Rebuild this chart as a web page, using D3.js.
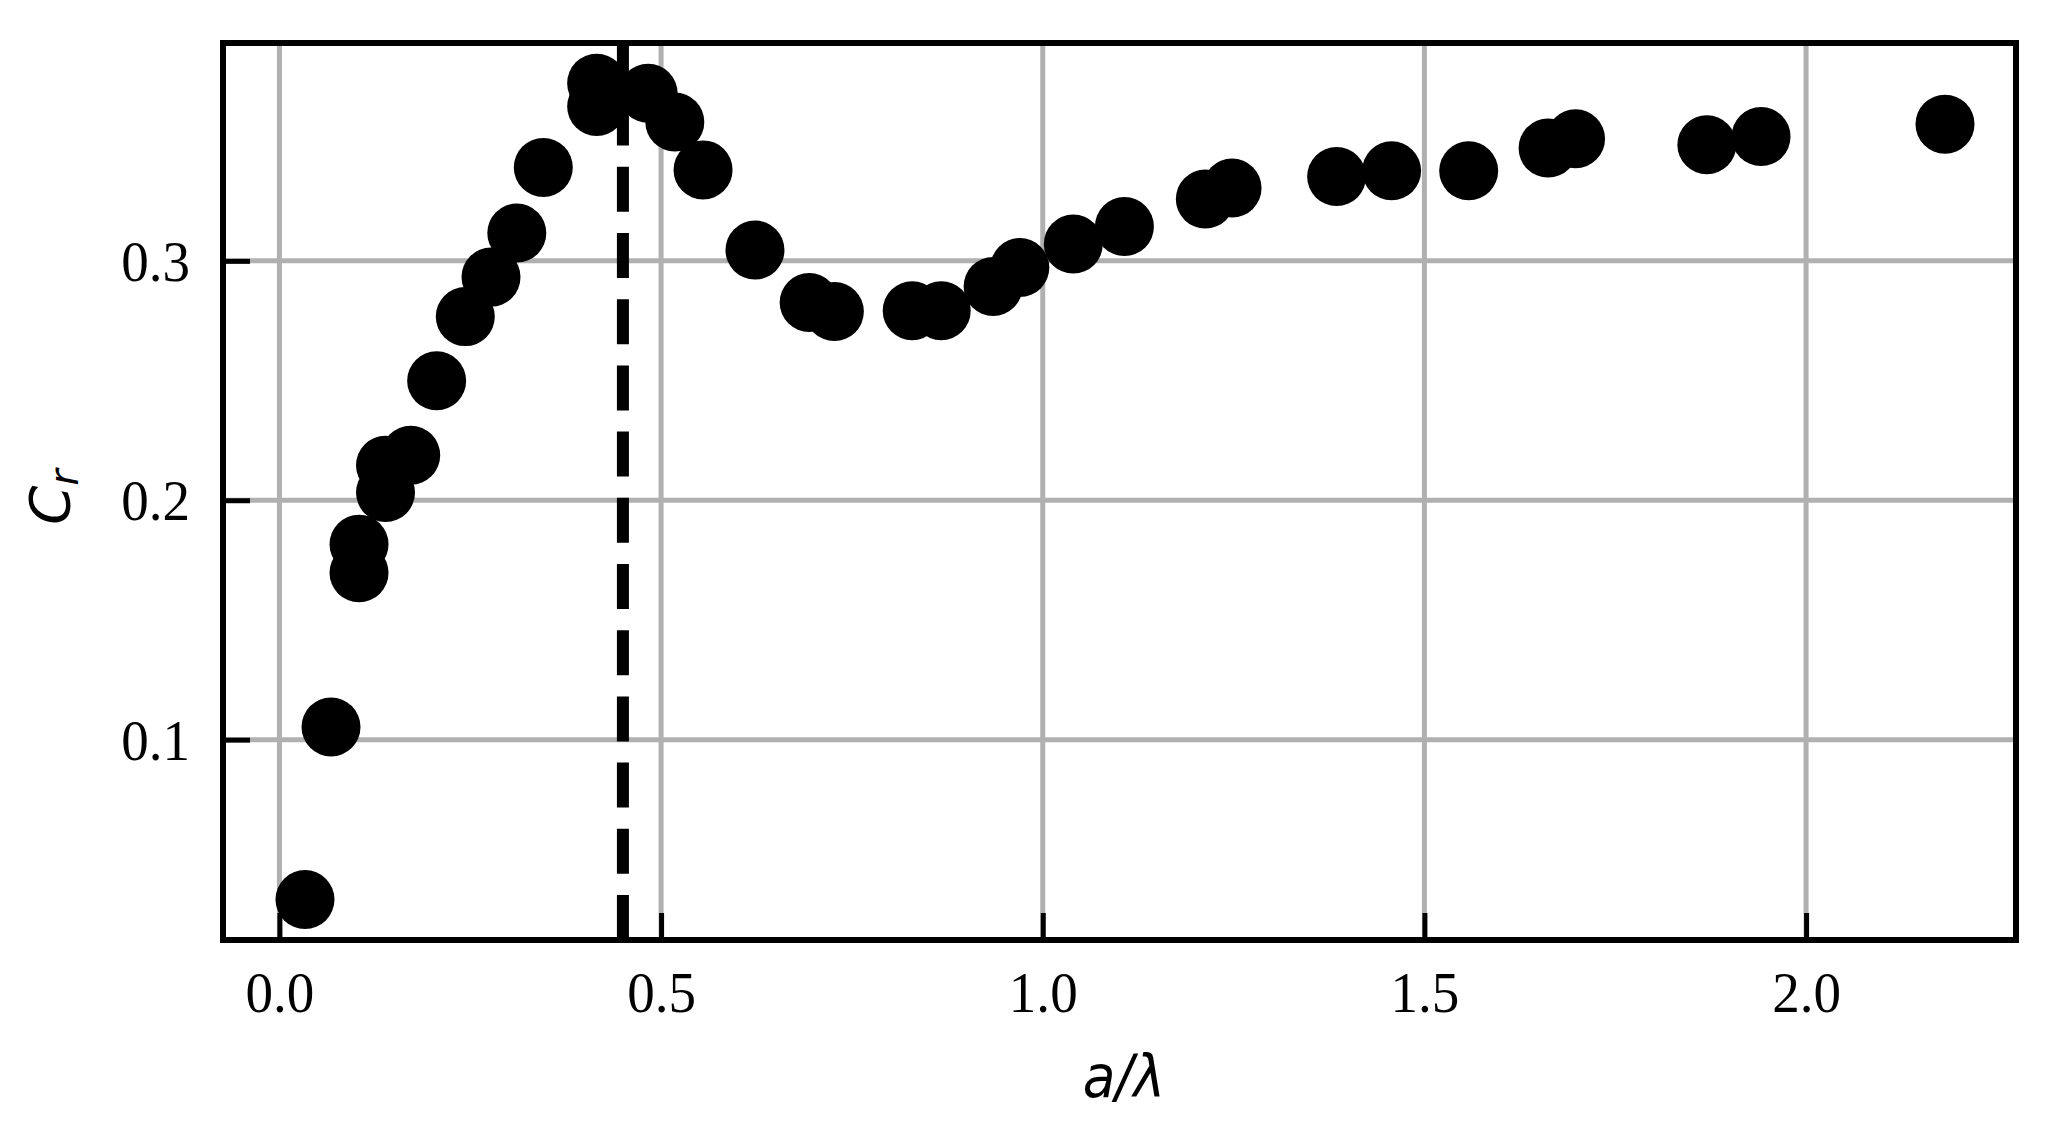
<!DOCTYPE html>
<html>
<head>
<meta charset="utf-8">
<script src="https://cdn.jsdelivr.net/npm/d3@7"></script>
<style>
  html, body { margin: 0; padding: 0; background: #fff; }
  svg { display: block; }
</style>
</head>
<body>
<div id="chart"></div>
<script>
// a/lambda values of the measured points
const ratio = [0.0335, 0.0676, 0.1043, 0.1043, 0.139, 0.139, 0.172, 0.206, 0.2435, 0.2772,
  0.311, 0.3457, 0.4156, 0.4156, 0.483, 0.518, 0.555, 0.623, 0.694, 0.727,
  0.829, 0.867, 0.935, 0.970, 1.040, 1.107, 1.213, 1.248, 1.385, 1.457,
  1.558, 1.662, 1.698, 1.870, 1.941, 2.182];
// C_r values, same order
const cr = [0.0332, 0.1053, 0.1697, 0.1816, 0.2032, 0.2146, 0.2188, 0.2499, 0.2767, 0.2932,
  0.3116, 0.339, 0.3645, 0.3742, 0.370, 0.358, 0.338, 0.3045, 0.2826, 0.2788,
  0.2792, 0.2792, 0.2893, 0.2972, 0.307, 0.3143, 0.3258, 0.3304, 0.3352, 0.3376,
  0.3376, 0.3471, 0.351, 0.3485, 0.3519, 0.3571];
const xTicks = [0.0, 0.5, 1.0, 1.5, 2.0];
const yTicks = [0.1, 0.2, 0.3];
const peakLine = 0.45;

const width = 2054, height = 1124;
const margin = {top: 43, right: 38, bottom: 184, left: 223};

const x = d3.scaleLinear().domain([-0.0739, 2.275]).range([margin.left, width - margin.right]);
const y = d3.scaleLinear().domain([0.0163, 0.391]).range([height - margin.bottom, margin.top]);

const svg = d3.select("#chart").append("svg")
  .attr("width", width)
  .attr("height", height)
  .style("background", "#fff");

// grid
svg.append("g").selectAll("line")
  .data(xTicks)
  .join("line")
  .attr("x1", d => x(d)).attr("x2", d => x(d))
  .attr("y1", y.range()[0]).attr("y2", y.range()[1])
  .attr("stroke", "#b0b0b0").attr("stroke-width", 5);

svg.append("g").selectAll("line")
  .data(yTicks)
  .join("line")
  .attr("y1", d => y(d)).attr("y2", d => y(d))
  .attr("x1", x.range()[0]).attr("x2", x.range()[1])
  .attr("stroke", "#b0b0b0").attr("stroke-width", 5);

// dashed marker, drawn bottom to top like matplotlib
svg.append("line")
  .attr("x1", x(peakLine)).attr("x2", x(peakLine))
  .attr("y1", y.range()[0]).attr("y2", y.range()[1])
  .attr("stroke", "#000")
  .attr("stroke-width", 12)
  .attr("stroke-dasharray", "45 21.2");

// points
svg.append("g").selectAll("circle")
  .data(d3.zip(ratio, cr))
  .join("circle")
  .attr("cx", d => x(d[0]))
  .attr("cy", d => y(d[1]))
  .attr("r", 29.5)
  .attr("fill", "#000");

// axes with inward ticks
const fmt = d3.format(".1f");
const xAxis = svg.append("g")
  .attr("transform", `translate(0,${y.range()[0]})`)
  .call(d3.axisBottom(x).tickValues(xTicks).tickFormat(fmt).tickSize(-27));
const yAxis = svg.append("g")
  .attr("transform", `translate(${x.range()[0]},0)`)
  .call(d3.axisLeft(y).tickValues(yTicks).tickFormat(fmt).tickSize(-27));

[xAxis, yAxis].forEach(ax => {
  ax.select(".domain").remove();
  ax.selectAll(".tick line").attr("stroke", "#000").attr("stroke-width", 5);
  ax.selectAll(".tick text")
    .attr("fill", "#000")
    .style("font-family", "'Liberation Serif', 'Times New Roman', serif")
    .style("font-size", "58px");
});

xAxis.selectAll(".tick text")
  .attr("y", 72)
  .attr("dy", null)
  .attr("transform", "scale(0.95,1)");
yAxis.selectAll(".tick text")
  .attr("x", -34.7)
  .attr("dy", "0.34em")
  .attr("transform", "scale(0.95,1)");

// frame
svg.append("rect")
  .attr("x", x.range()[0]).attr("y", y.range()[1])
  .attr("width", x.range()[1] - x.range()[0])
  .attr("height", y.range()[0] - y.range()[1])
  .attr("fill", "none")
  .attr("stroke", "#000")
  .attr("stroke-width", 6);

// labels
svg.append("text")
  .attr("transform", "translate(1124,1097) scale(0.92,1)")
  .attr("text-anchor", "middle")
  .style("font-family", "'DejaVu Sans', sans-serif")
  .style("font-style", "italic")
  .style("font-size", "58px")
  .text("a/λ");

const ylab = svg.append("text")
  .attr("transform", "translate(69,497) rotate(-90)")
  .attr("text-anchor", "middle")
  .style("font-family", "'DejaVu Sans', sans-serif")
  .style("font-style", "italic")
  .style("font-size", "56px");
ylab.append("tspan").text("C");
ylab.append("tspan")
  .attr("dy", "0.22em")
  .style("font-size", "40px")
  .text("r");
</script>
</body>
</html>
